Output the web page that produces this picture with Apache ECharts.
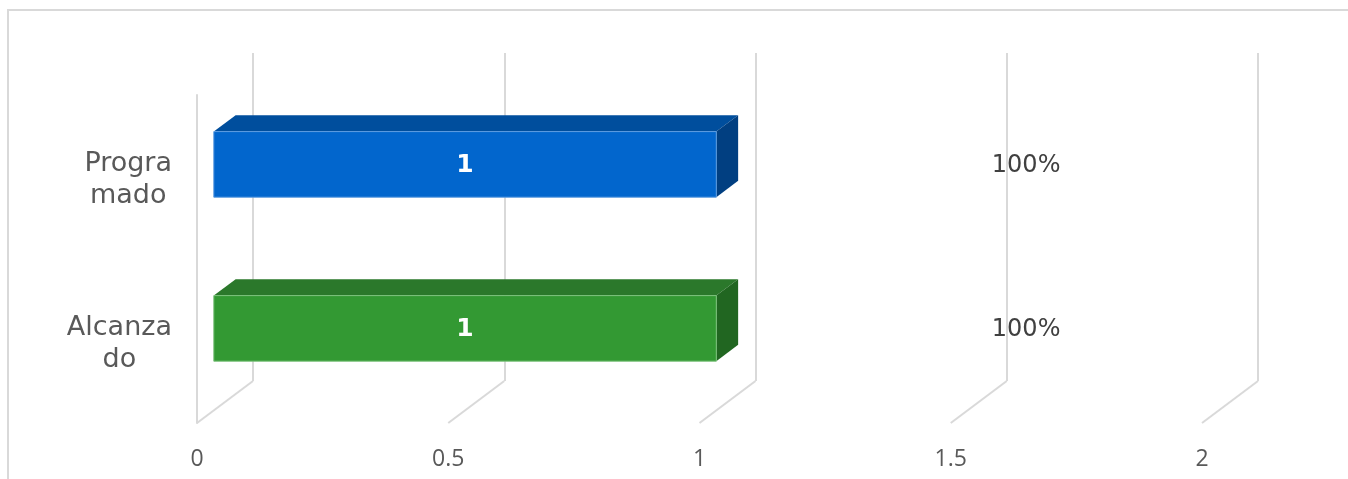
<!DOCTYPE html>
<html>
<head>
<meta charset="utf-8">
<script src="https://cdn.jsdelivr.net/npm/echarts@6/dist/echarts.min.js"></script>
<style>
html,body{margin:0;padding:0;background:#fff;}
#chart{width:1348px;height:479px;}
</style>
</head>
<body>
<div id="chart"></div>
<script>
// ---- data ----
const categories = ['Progra\nmado', 'Alcanza\ndo'];
const values = [1, 1];
const valueLabels = ['1', '1'];
const pctLabels = ['100%', '100%'];
const xTicks = [0, 0.5, 1, 1.5, 2];

// ---- style / layout ----
const barColors = [
  { front: '#0266CD', top: '#004E9D', side: '#013F81', edge: '#5C9BE0' },
  { front: '#339933', top: '#2B782B', side: '#216621', edge: '#7CC27C' }
];
const DEPTH = [56, -42];       // front plane -> back plane offset
const FRONT = 0.30, BACK = 0.69; // bar depth position (fraction of DEPTH)
const gridColor = '#D9D9D9';
const FONT = '"DejaVu Sans", sans-serif';

const chart = echarts.init(document.getElementById('chart'), null, { renderer: 'canvas' });

const barData = values.map((v, i) => [v, i, valueLabels[i], pctLabels[i]]);

function renderBar(params, api) {
  const idx = api.value(1);
  const v = api.value(0);
  const c = barColors[idx % barColors.length];
  const p0 = api.coord([0, idx]);
  const p1 = api.coord([v, idx]);
  const band = api.size([0, 1])[1];
  const h = band * 0.4;
  const fx = DEPTH[0] * FRONT, fy = DEPTH[1] * FRONT;
  const dx = DEPTH[0] * (BACK - FRONT), dy = DEPTH[1] * (BACK - FRONT);
  const xl = p0[0] + fx, xr = p1[0] + fx;
  const cy = p0[1] + fy;
  const yt = cy - h / 2, yb = cy + h / 2;
  const pctX = api.coord([1.65, idx])[0];
  return {
    type: 'group',
    children: [
      { type: 'polygon', shape: { points: [[xl, yt], [xr, yt], [xr + dx, yt + dy], [xl + dx, yt + dy]] },
        style: { fill: c.top } },
      { type: 'polygon', shape: { points: [[xr, yt], [xr + dx, yt + dy], [xr + dx, yb + dy], [xr, yb]] },
        style: { fill: c.side } },
      { type: 'rect', shape: { x: xl, y: yt, width: xr - xl, height: h },
        style: { fill: c.front, stroke: c.edge, lineWidth: 1 } },
      { type: 'text', x: (xl + xr) / 2, y: cy + 1,
        style: { text: api.value(2), fill: '#FFFFFF', font: 'bold 25px ' + FONT, align: 'center', verticalAlign: 'middle' } },
      { type: 'text', x: pctX, y: cy + 1,
        style: { text: api.value(3), fill: '#404040', font: '24px ' + FONT, align: 'center', verticalAlign: 'middle' } }
    ]
  };
}

function renderFloor(params, api) {
  const v = api.value(0);
  const cs = params.coordSys;
  const x = api.coord([v, 0])[0];
  const y = cs.y + cs.height;
  return {
    type: 'line',
    shape: { x1: x, y1: y, x2: x + DEPTH[0], y2: y + DEPTH[1] },
    style: { stroke: gridColor, lineWidth: 2 }
  };
}

const option = {
  animation: false,
  backgroundColor: '#FFFFFF',
  graphic: [{
    type: 'rect', shape: { x: 8, y: 10, width: 1400, height: 520 },
    style: { fill: 'none', stroke: gridColor, lineWidth: 2 }, silent: true, z: -10
  }],
  grid: [
    { left: 197, top: 95, width: 1005, height: 328 },
    { left: 253, top: 53, width: 1005, height: 328 }
  ],
  xAxis: [
    { type: 'value', gridIndex: 0, min: 0, max: 2, interval: 0.5,
      axisLine: { show: false }, axisTick: { show: false }, splitLine: { show: false },
      axisLabel: { fontSize: 23, color: '#595959', fontFamily: '"Open Sans", sans-serif', margin: 25 } },
    { type: 'value', gridIndex: 1, min: 0, max: 2, interval: 0.5,
      axisLine: { show: false }, axisTick: { show: false }, axisLabel: { show: false },
      splitLine: { show: true, lineStyle: { color: gridColor, width: 2 } } }
  ],
  yAxis: [
    { type: 'category', gridIndex: 0, data: categories, inverse: true,
      axisLine: { show: true, lineStyle: { color: gridColor, width: 2 } },
      axisTick: { show: false },
      axisLabel: {
        margin: 25, align: 'right', padding: [6, 0, 0, 0],
        formatter: v => v.split('\n').map(s => '{c|' + s + '}').join('\n'),
        rich: { c: { align: 'center', fontSize: 27, lineHeight: 32, color: '#595959', fontFamily: FONT } }
      } },
    { type: 'category', gridIndex: 1, data: categories, inverse: true, show: false }
  ],
  series: [
    { type: 'custom', xAxisIndex: 0, yAxisIndex: 0, renderItem: renderFloor,
      data: xTicks.map(t => [t, 0]), z: 1, silent: true },
    { type: 'custom', xAxisIndex: 0, yAxisIndex: 0, renderItem: renderBar,
      encode: { x: 0, y: 1 }, data: barData, z: 5 }
  ]
};
chart.setOption(option);
</script>
</body>
</html>
